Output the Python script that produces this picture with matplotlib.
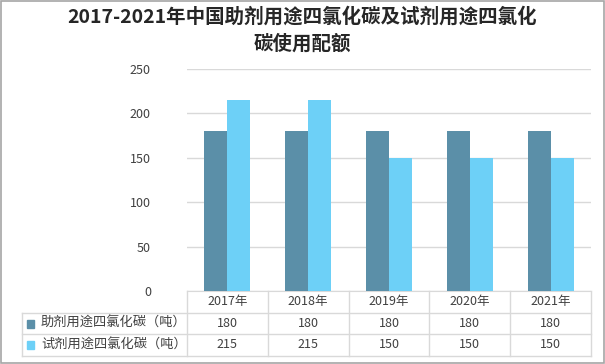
import matplotlib
matplotlib.use("Agg")
import matplotlib.pyplot as plt
from matplotlib.patches import Rectangle
from matplotlib.transforms import blended_transform_factory

plt.rcParams['font.family'] = ['Noto Sans CJK SC', 'DejaVu Sans']

categories = ['2017年', '2018年', '2019年', '2020年', '2021年']
series_names = ['助剂用途四氯化碳（吨）', '试剂用途四氯化碳（吨）']
zhuji = [180, 180, 180, 180, 180]
shiji = [215, 215, 150, 150, 150]
yticks = [0, 50, 100, 150, 200, 250]
title_line1 = '2017-2021年中国助剂用途四氯化碳及试剂用途四氯化'
title_line2 = '碳使用配额'

colors = ['#5B8FA8', '#6DD0F7']
grid_c = '#D9D9D9'
text_c = '#404040'

fig = plt.figure(figsize=(6.05, 3.64), dpi=100)
ax = fig.add_axes([187/605, 1-291/364, 404/605, 222/364])

n = len(categories)
x = list(range(n))
w = 0.285
ax.bar([i - w/2 for i in x], zhuji, width=w, color=colors[0], zorder=3)
ax.bar([i + w/2 for i in x], shiji, width=w, color=colors[1], zorder=3)

ax.set_xlim(-0.5, n - 0.5)
ax.set_ylim(0, 250)
ax.set_yticks(yticks)
ax.set_yticklabels([str(v) for v in yticks], fontsize=9, color=text_c)
ax.yaxis.grid(True, color=grid_c, linewidth=1, zorder=0)
ax.set_xticks([])
ax.tick_params(axis='y', length=0, pad=26)
for s in ['left', 'right', 'top']:
    ax.spines[s].set_visible(False)
ax.spines['bottom'].set_color(grid_c)

# data table drawn below the axes
tr = blended_transform_factory(ax.transData, ax.transAxes)
tra = ax.transAxes
ph = 222.0
r0 = 0.0
r1 = -22/ph
r2 = -43/ph
r3 = -65/ph
left_ax = (22 - 187) / 404
lk = dict(color=grid_c, linewidth=1, clip_on=False)

for yy in [r1, r2, r3]:
    ax.plot([left_ax, 1.0], [yy, yy], transform=tra, **lk)
ax.plot([left_ax, left_ax], [r1, r3], transform=tra, **lk)
for b in range(n + 1):
    ax.plot([b - 0.5, b - 0.5], [r0, r3], transform=tr, **lk)

for i, c in enumerate(categories):
    ax.text(i, (r0 + r1) / 2, c, transform=tr, ha='center', va='center',
            fontsize=9, color=text_c)
    ax.text(i, (r1 + r2) / 2, str(zhuji[i]), transform=tr, ha='center',
            va='center', fontsize=9, color=text_c)
    ax.text(i, (r2 + r3) / 2, str(shiji[i]), transform=tr, ha='center',
            va='center', fontsize=9, color=text_c)

for k, (name, yy) in enumerate([(series_names[0], (r1 + r2) / 2),
                                 (series_names[1], (r2 + r3) / 2)]):
    ax.add_patch(Rectangle(((27 - 187) / 404, yy - 4 / ph), 7 / 404, 8 / ph,
                           transform=tra, color=colors[k], clip_on=False))
    ax.text((41 - 187) / 404, yy, name, transform=tra, ha='left',
            va='center', fontsize=9.5, color=text_c)

fig.text(0.5, 1 - 17/364, title_line1, ha='center', va='center',
         fontsize=14, fontweight='bold', color='#262626')
fig.text(0.5, 1 - 43.5/364, title_line2, ha='center', va='center',
         fontsize=14, fontweight='bold', color='#262626')

fig.add_artist(Rectangle((0.001, 0.002), 0.997, 0.995, transform=fig.transFigure,
                         fill=False, edgecolor='#A6A6A6', linewidth=1.2))

fig.savefig('out.png', dpi=100)
